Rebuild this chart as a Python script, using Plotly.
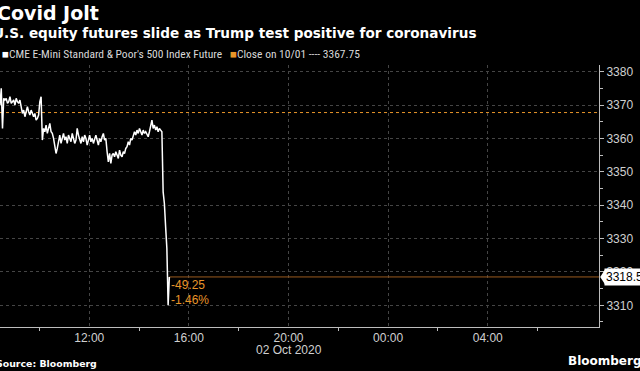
import pandas as pd
import plotly.graph_objects as go

# ---------------- data ----------------
start_time = "2020-10-02 08:25"
step = "3min"
futures = [
    3370, 3375, 3363, 3372,
    3371.5, 3372, 3370.5, 3371, 3372.5, 3370.5, 3371, 3371.5, 3370, 3372, 3371, 3370.5, 3371.5,
    3369, 3367.5, 3368.5, 3366.5, 3368, 3369.5, 3368, 3367, 3368.5, 3367.5,
    3366.5, 3367.5, 3365.5, 3366, 3367,
    3371, 3372.5,
    3359.5,
    3363, 3362, 3364, 3361.5, 3363, 3364.5, 3362, 3361.5, 3360,
    3358, 3355.5, 3357,
    3359, 3361, 3358.5, 3360, 3361.5, 3359.5, 3360.5, 3358.5, 3361, 3360, 3359, 3361.5, 3360, 3358.5, 3359.5,
    3363,
    3361, 3360, 3358.5, 3360.5, 3359, 3361, 3360, 3358, 3359.5, 3361, 3359, 3360, 3358.5, 3360, 3361,
    3359.5, 3358, 3360, 3359, 3360.5, 3361.5, 3359.5, 3360,
    3356, 3353, 3355.5, 3352.5, 3355,
    3355.5, 3354.5, 3356, 3355, 3354, 3356.5, 3355, 3354.5, 3356, 3355.5, 3357,
    3357.5, 3359, 3358, 3360, 3359.5, 3361,
    3362, 3361, 3362.5, 3361.5, 3363, 3362, 3361, 3362.5, 3361.5, 3362, 3361, 3360.5,
    3362, 3363.5,
    3365.5,
    3363, 3364, 3362.5, 3363.5, 3362, 3363, 3362.5,
    3362,
    3344, 3340.5, 3333.5, 3327, 3310, 3318.5,
]
prev_close = 3367.75
change_text = "-49.25"
pct_text = "-1.46%"
last_label = "3318.5"

x_range = ["2020-10-02 08:25", "2020-10-03 08:28"]
y_range = [3303.5, 3382]
x_tickvals = ["2020-10-02 12:00", "2020-10-02 16:00", "2020-10-02 20:00",
              "2020-10-03 00:00", "2020-10-03 04:00"]
x_ticktext = ["12:00", "16:00", "20:00", "00:00", "04:00"]
date_label = "02 Oct 2020"
date_label_at = "2020-10-02 20:00"
x_minor = ["2020-10-02 10:00", "2020-10-02 14:00", "2020-10-02 18:00",
           "2020-10-02 22:00", "2020-10-03 02:00", "2020-10-03 06:00"]
y_tickvals = [3310, 3320, 3330, 3340, 3350, 3360, 3370, 3380]

times = pd.date_range(start_time, periods=len(futures), freq=step)
last_val = futures[-1]
last_time = times[-1]

NARROW = "Liberation Sans Narrow, Arial Narrow, Roboto Condensed, sans-serif"
REG = "Liberation Sans, Arial, sans-serif"
BOLD = "DejaVu Sans, Verdana, sans-serif"
GRID = "#454545"
AXIS = "#bdbdbd"
ORANGE = "#e8962a"
TICK = "#d0d0d0"

fig = go.Figure()

# previous close dotted line
fig.add_trace(go.Scatter(x=x_range, y=[prev_close, prev_close], mode="lines",
                         line=dict(color=ORANGE, width=1, dash="dot"),
                         hoverinfo="skip", showlegend=False))
# last value level line
fig.add_trace(go.Scatter(x=[last_time, x_range[1]], y=[last_val, last_val], mode="lines",
                         line=dict(color="#9a5a1e", width=1),
                         hoverinfo="skip", showlegend=False))
# futures line
fig.add_trace(go.Scatter(x=times, y=futures, mode="lines",
                         line=dict(color="white", width=1.5),
                         showlegend=False))

fig.update_layout(
    width=640, height=371,
    margin=dict(l=0, r=41, t=65, b=44),
    paper_bgcolor="black", plot_bgcolor="black",
    showlegend=False,
    xaxis=dict(
        range=x_range, type="date",
        tickmode="array", tickvals=x_tickvals, ticktext=x_ticktext,
        showgrid=True, gridcolor=GRID, griddash="dot", gridwidth=1,
        showline=True, linecolor=AXIS, linewidth=1,
        ticks="",
        tickfont=dict(family=REG, size=12, color=TICK),
        minor=dict(tickmode="array", tickvals=x_minor, ticks="outside",
                   ticklen=3, tickcolor=AXIS, showgrid=False),
        zeroline=False, fixedrange=True,
    ),
    yaxis=dict(
        range=y_range, side="right",
        tickmode="array", tickvals=y_tickvals,
        showgrid=True, gridcolor=GRID, griddash="dot", gridwidth=1,
        showline=True, linecolor=AXIS, linewidth=1,
        ticks="outside", ticklen=4, tickcolor=AXIS,
        tickfont=dict(family=REG, size=12, color=TICK),
        minor=dict(dtick=5, tick0=3305, ticks="outside", ticklen=3,
                   tickcolor=AXIS, showgrid=False),
        zeroline=False, fixedrange=True,
    ),
)

annotations = [
    dict(text="<b>Covid Jolt</b>", xref="paper", yref="paper", x=0, y=1,
         xanchor="left", yanchor="middle", xshift=-5, yshift=65 - 13,
         showarrow=False, font=dict(family=BOLD, size=19, color="white")),
    dict(text="<b>U.S. equity futures slide as Trump test positive for coronavirus</b>",
         xref="paper", yref="paper", x=0, y=1, xanchor="left", yanchor="middle",
         xshift=-9, yshift=65 - 33, showarrow=False,
         font=dict(family=BOLD, size=13.6, color="white")),
    dict(text=("<span style='color:white'>■</span>CME E-Mini Standard &amp; Poor's 500 Index Future"
               "   <span style='color:%s'>■</span>Close on 10/01 ---- 3367.75" % ORANGE),
         xref="paper", yref="paper", x=0, y=1, xanchor="left", yanchor="middle",
         xshift=0, yshift=65 - 54, showarrow=False,
         font=dict(family=NARROW, size=11.5, color="#d8d8d8")),
    dict(text=date_label, x=date_label_at, xref="x", y=0, yref="paper",
         xanchor="center", yanchor="middle", yshift=-(350 - 326.7), showarrow=False,
         font=dict(family=REG, size=12, color=TICK)),
    dict(text="<b>Source: Bloomberg</b>", xref="paper", yref="paper", x=0, y=0,
         xanchor="left", yanchor="middle", xshift=-6, yshift=-(363 - 326.7),
         showarrow=False, font=dict(family=BOLD, size=9.4, color="white")),
    dict(text="<b>Bloomberg L.P.</b>", xref="paper", yref="paper", x=0, y=0,
         xanchor="left", yanchor="middle", xshift=566, yshift=-(361 - 326.7),
         showarrow=False, font=dict(family=BOLD, size=12, color="white")),
    dict(text=change_text, x=last_time, y=last_val, xref="x", yref="y",
         xanchor="left", yanchor="middle", xshift=0, yshift=-8, showarrow=False,
         font=dict(family=REG, size=12, color=ORANGE)),
    dict(text=pct_text, x=last_time, y=last_val, xref="x", yref="y",
         xanchor="left", yanchor="middle", xshift=0, yshift=-23, showarrow=False,
         font=dict(family=REG, size=12, color=ORANGE)),
    dict(text=last_label, x=1, y=last_val, xref="paper", yref="y",
         xanchor="left", yanchor="middle", xshift=5, showarrow=False,
         bgcolor="white", borderpad=1,
         font=dict(family=REG, size=12, color="black")),
]
fig.update_layout(annotations=annotations)

# callout pointer
fig.add_shape(type="path", xref="paper", yref="y",
              path="M 1.002,%s L 1.010,%s L 1.010,%s Z" % (last_val, last_val + 2.2, last_val - 2.2),
              fillcolor="white", line=dict(color="white", width=0))

fig.write_html("out.html", config={"displayModeBar": False},
               post_script="document.body.style.margin='0';document.body.style.overflow='hidden';")
